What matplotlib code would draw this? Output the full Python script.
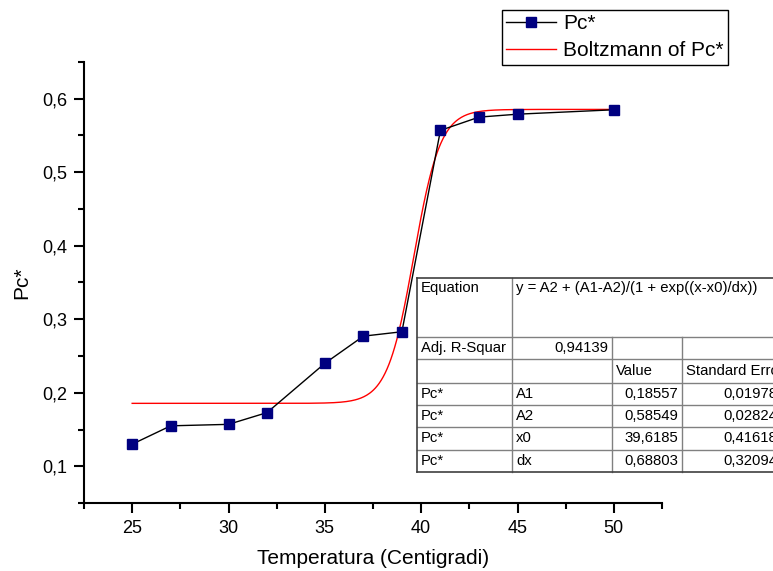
import numpy as np
import matplotlib
matplotlib.use("Agg")
import matplotlib.pyplot as plt
from matplotlib.ticker import MultipleLocator, FuncFormatter
from matplotlib.patches import Rectangle

# ---- data ----
temperature = [25, 27, 30, 32, 35, 37, 39, 41, 43, 45, 50]
pc_star = [0.130, 0.155, 0.157, 0.173, 0.240, 0.277, 0.283, 0.557, 0.575, 0.579, 0.585]

# Boltzmann fit parameters (from the fit table)
fit_A1 = 0.18557
fit_A2 = 0.58549
fit_x0 = 39.6185
fit_dx = 0.68803
fit_adj_r2 = "0,94139"
param_names = ["A1", "A2", "x0", "dx"]
param_values = ["0,18557", "0,58549", "39,6185", "0,68803"]
param_errors = ["0,01978", "0,02824", "0,41618", "0,32094"]

W, H = 773, 571
fig = plt.figure(figsize=(W / 100, H / 100), dpi=100)
plt.rcParams['font.family'] = ['Liberation Sans', 'DejaVu Sans']

ax = fig.add_axes([84 / W, 1 - 503 / H, (662 - 84) / W, (503 - 62) / H])

xfit = np.linspace(25, 50, 500)
yfit = fit_A2 + (fit_A1 - fit_A2) / (1 + np.exp((xfit - fit_x0) / fit_dx))

l1, = ax.plot(temperature, pc_star, color='black', lw=1.0, marker='s',
              markersize=7.5, markerfacecolor='#000080', markeredgecolor='#000080',
              label='Pc*', zorder=3)
l2, = ax.plot(xfit, yfit, color='red', lw=1.0, label='Boltzmann of Pc*', zorder=2)

ax.set_xlim(22.5, 52.5)
ax.set_ylim(0.05, 0.65)
ax.xaxis.set_major_locator(MultipleLocator(5))
ax.xaxis.set_minor_locator(MultipleLocator(2.5))
ax.yaxis.set_major_locator(MultipleLocator(0.1))
ax.yaxis.set_minor_locator(MultipleLocator(0.05))

def comma_fmt(v, pos):
    s = ('%g' % round(v, 6))
    return s.replace('.', ',')
ax.xaxis.set_major_formatter(FuncFormatter(comma_fmt))
ax.yaxis.set_major_formatter(FuncFormatter(comma_fmt))

for s in ['top', 'right']:
    ax.spines[s].set_visible(False)
for s in ['left', 'bottom']:
    ax.spines[s].set_linewidth(1.5)
ax.tick_params(which='major', direction='out', length=7, width=1.5, labelsize=13, pad=5)
ax.tick_params(which='minor', direction='out', length=4, width=1.5)

ax.set_xlabel('Temperatura (Centigradi)', fontsize=15, labelpad=9)
ax.set_ylabel('Pc*', fontsize=15, labelpad=8)

leg = fig.legend(handles=[l1, l2], loc='upper left',
                 bbox_to_anchor=(502 / W, 1 - 10 / H), fontsize=15,
                 frameon=True, fancybox=False, edgecolor='black', framealpha=1,
                 borderpad=0.2, labelspacing=0.4, handlelength=2.4,
                 handletextpad=0.35, borderaxespad=0)
leg.get_frame().set_linewidth(1.0)

# ---- fit results table (pixel-based overlay) ----
tab = fig.add_axes([0, 0, 1, 1], facecolor='none')
tab.set_xlim(0, W)
tab.set_ylim(H, 0)
tab.axis('off')

cols = [417, 512, 612, 682, 781]
rows = [278, 337, 359, 383, 405, 427, 450, 472]
gc = '#808080'
fs = 10.7

tab.add_patch(Rectangle((cols[0], rows[0]), cols[-1] - cols[0], rows[-1] - rows[0],
                        facecolor='white', edgecolor='none', zorder=5))
for r in rows[1:-1]:
    tab.plot([cols[0], cols[-1]], [r, r], color=gc, lw=1.0, zorder=6)
tab.plot([cols[1], cols[1]], [rows[0], rows[-1]], color=gc, lw=1.0, zorder=6)
for c in cols[2:4]:
    tab.plot([c, c], [rows[1], rows[-1]], color=gc, lw=1.0, zorder=6)
tab.plot([cols[0], cols[-1]], [rows[0], rows[0]], color='#404040', lw=1.2, zorder=7)
tab.plot([cols[0], cols[-1]], [rows[-1], rows[-1]], color='#404040', lw=1.2, zorder=7)
tab.plot([cols[0], cols[0]], [rows[0], rows[-1]], color='#404040', lw=1.2, zorder=7)

def cell(txt, ci, ri, align='left', va='center'):
    if align == 'left':
        x = cols[ci] + 4
    else:
        x = cols[ci + 1] - 4
    if va == 'top':
        y = rows[ri] + 3
    else:
        y = (rows[ri] + rows[ri + 1]) / 2
    tab.text(x, y, txt, ha=align, va=va, fontsize=fs, zorder=8, clip_on=False)

cell('Equation', 0, 0, va='top')
cell('y = A2 + (A1-A2)/(1 + exp((x-x0)/dx))', 1, 0, va='top')
cell('Adj. R-Squar', 0, 1)
cell(fit_adj_r2, 1, 1, align='right')
cell('Value', 2, 2)
cell('Standard Error', 3, 2)
for i in range(4):
    cell('Pc*', 0, 3 + i)
    cell(param_names[i], 1, 3 + i)
    cell(param_values[i], 2, 3 + i, align='right')
    cell(param_errors[i], 3, 3 + i, align='right')

fig.savefig('out.png', dpi=100)
